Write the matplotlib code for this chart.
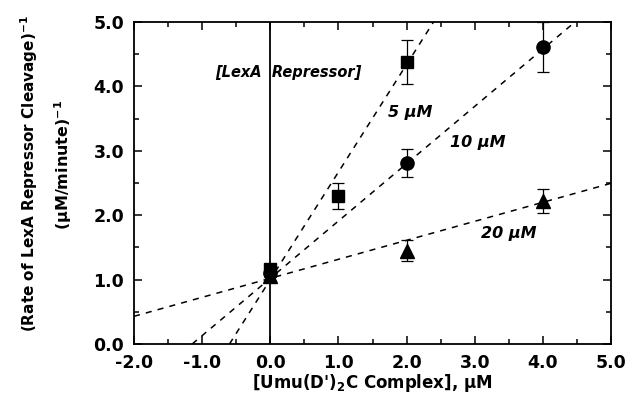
import matplotlib
matplotlib.use("Agg")
import matplotlib.pyplot as plt
from matplotlib.ticker import MultipleLocator, FormatStrFormatter

plt.rcParams['font.family'] = ['DejaVu Sans']
plt.rcParams['font.weight'] = 'bold'
plt.rcParams['mathtext.fontset'] = 'custom'
plt.rcParams['mathtext.rm'] = 'DejaVu Sans:bold'
plt.rcParams['mathtext.it'] = 'DejaVu Sans:bold:italic'
plt.rcParams['mathtext.bf'] = 'DejaVu Sans:bold'

# data
x_5 = [0.0, 1.0, 2.0]
y_5 = [1.17, 2.30, 4.38]
e_5 = [0.08, 0.20, 0.34]
x_10 = [0.0, 2.0, 4.0]
y_10 = [1.10, 2.81, 4.61]
e_10 = [0.06, 0.22, 0.39]
x_20 = [0.0, 2.0, 4.0]
y_20 = [1.05, 1.45, 2.22]
e_20 = [0.05, 0.16, 0.18]

fit_labels = ['5 \u00b5M', '10 \u00b5M', '20 \u00b5M']
fit_slope = [1.67, 0.89, 0.295]
fit_intercept = [1.0, 1.02, 1.02]

fig = plt.figure(figsize=(6.29, 3.99), dpi=100)
ax = fig.add_axes([134/629, 1-344/399, (611-134)/629, (344-22)/399])

ax.set_xlim(-2, 5)
ax.set_ylim(0, 5)

for m, b in zip(fit_slope, fit_intercept):
    ax.axline((0, b), slope=m, color='black', lw=1.1, ls=(0, (4, 4)), zorder=1)

ax.axvline(0, color='black', lw=1.3, zorder=1)

kw = dict(color='black', ecolor='black', elinewidth=0.9, capsize=4, capthick=0.9, ls='none', zorder=3)
ax.errorbar(x_5, y_5, yerr=e_5, marker='s', ms=9, **kw)
ax.errorbar(x_10, y_10, yerr=e_10, marker='o', ms=9.5, **kw)
ax.errorbar(x_20, y_20, yerr=e_20, marker='^', ms=10, **kw)

ax.text(0.27, 4.21, '[LexA  Repressor]', style='italic', fontsize=10.5, ha='center', va='center', fontweight='bold')
ax.text(2.05, 3.6, fit_labels[0], style='italic', fontsize=11.5, ha='center', va='center', fontweight='bold')
ax.text(3.05, 3.13, fit_labels[1], style='italic', fontsize=11.5, ha='center', va='center', fontweight='bold')
ax.text(3.5, 1.72, fit_labels[2], style='italic', fontsize=11.5, ha='center', va='center', fontweight='bold')

ax.xaxis.set_major_locator(MultipleLocator(1))
ax.xaxis.set_minor_locator(MultipleLocator(0.5))
ax.yaxis.set_major_locator(MultipleLocator(1))
ax.yaxis.set_minor_locator(MultipleLocator(0.5))
ax.xaxis.set_major_formatter(FormatStrFormatter('%.1f'))
ax.yaxis.set_major_formatter(FormatStrFormatter('%.1f'))
ax.tick_params(which='both', direction='in', top=True, right=True, labelsize=12.5, width=1.1)
ax.tick_params(which='major', length=6, pad=7)
ax.tick_params(which='minor', length=3.5)
for lab in ax.get_xticklabels() + ax.get_yticklabels():
    lab.set_fontweight('bold')
for s in ax.spines.values():
    s.set_linewidth(1.3)

fig.text(372/629, 1-383/399, "[Umu(D')$_2$C Complex], \u00b5M", ha='center', va='center', fontsize=12, fontweight='bold')
fig.text(29/629, 1-174/399, '(Rate of LexA Repressor Cleavage)$^{-1}$', rotation=90, ha='center', va='center', fontsize=11, fontweight='bold')
fig.text(63/629, 1-165/399, '(\u00b5M/minute)$^{-1}$', rotation=90, ha='center', va='center', fontsize=11.5, fontweight='bold')

fig.savefig('out.png', dpi=100)
